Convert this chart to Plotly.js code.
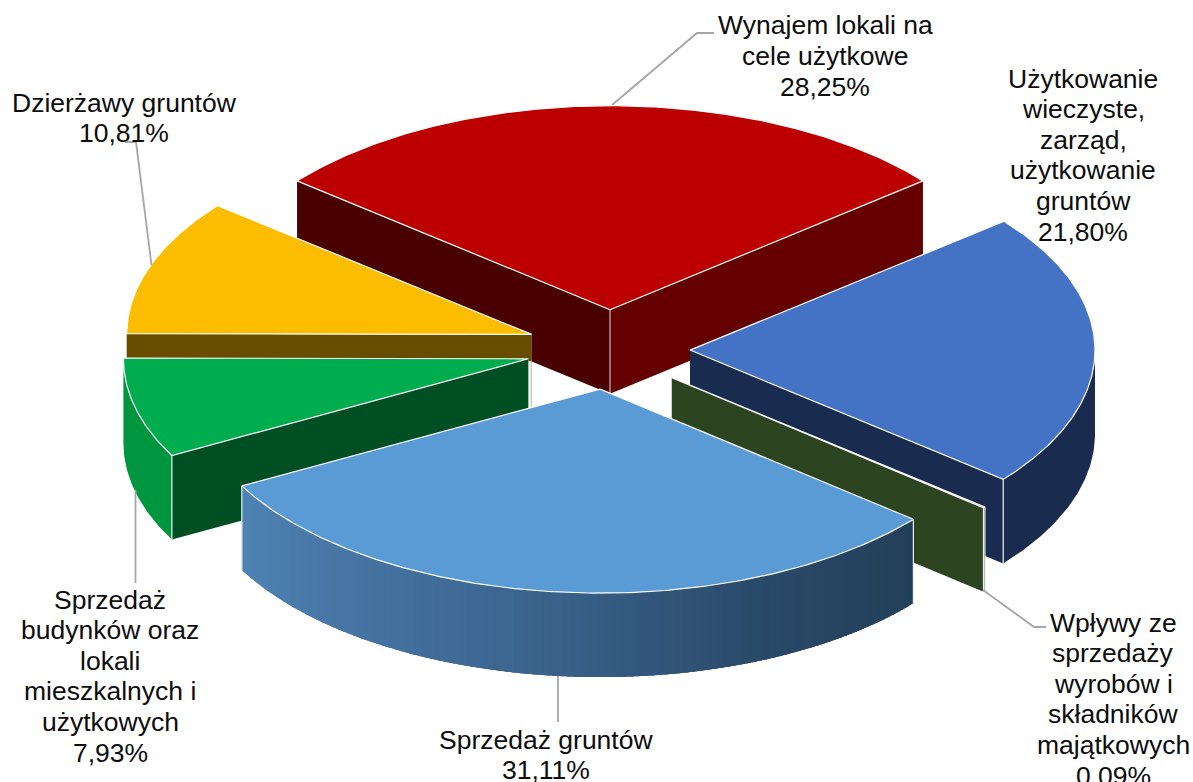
<!DOCTYPE html>
<html>
<head>
<meta charset="utf-8">
<script src="https://cdn.plot.ly/plotly-3.0.1.min.js"></script>
<style>html,body{margin:0;padding:0;background:#fff;overflow:hidden}#chart{width:1193px;height:782px}</style>
</head>
<body>
<div id="chart"></div>
<script>
// ---- data ----
const categories = ['Wynajem lokali na cele użytkowe','Użytkowanie wieczyste, zarząd, użytkowanie gruntów','Wpływy ze sprzedaży wyrobów i składników majątkowych','Sprzedaż gruntów','Sprzedaż budynków oraz lokali mieszkalnych i użytkowych','Dzierżawy gruntów'];
const labelLines = [
  ['Wynajem lokali na','cele użytkowe'],
  ['Użytkowanie','wieczyste,','zarząd,','użytkowanie','gruntów'],
  ['Wpływy ze','sprzedaży','wyrobów i','składników','majątkowych'],
  ['Sprzedaż gruntów'],
  ['Sprzedaż','budynków oraz','lokali','mieszkalnych i','użytkowych'],
  ['Dzierżawy gruntów']
];
const shares = [28.25, 21.80, 0.09, 31.11, 7.93, 10.81];

// ---- styles ----
const topColors  = ['#BC0000','#4472C4','#3A5A28','#5B9BD5','#00AD4E','#FCBD00'];
const wallAColors = ['#480000','#1A2B50','#2D4420','#233F58','#004F24','#664D00'];
const wallBColors = ['#640000','#1A2B50','#2D4420','#233F58','#004F24','#664D00'];
const rimStops = [
  [['#640000',0],['#640000',1]],
  [['#1A2B50',0],['#1A2B50',1]],
  [['#2D4420',0],['#2D4420',1]],
  [['#4F83B4',0],['#3C658F',0.45],['#2A4A6A',0.75],['#233F58',1]],
  [['#00963F',0],['#00963F',1]],
  [['#664D00',0],['#664D00',1]]
];
const drawOrder = [0,5,4,1,2,3];
const labelPos = [[825,56],[1083,155],[1113,699],[546,755],[110,676],[124,118]];
const leaders = [
  [[612,105],[697,33],[714,33]],
  [[983,590],[1034,627],[1046,627]],
  [[558,676],[558,722]],
  [[135.5,490],[135.5,583]],
  [[151.5,265],[136,142],[125,142]]
];
// small per-slice corrections for the reference's perspective
const nudge = [[0,0],[0,0],[0,2],[-2,-1],[-4,-1],[-3,-2]];
const rxAdjust = [-1.5,0,0,2,0,0];

// ---- geometry ----
const CX=610, CY=350, RX=405, RY=204, DEPTH=84, EXPLODE=80, K=RY/RX, PITCH=30.6;
const rad = d => d*Math.PI/180;
const total = shares.reduce((a,b)=>a+b,0);
const deg = shares.map(v=>v/total*360);
let cursor = -deg[0]/2;
const slices = deg.map((d,i)=>{
  const a=cursor, b=cursor+d; cursor=b;
  const m=(a+b)/2;
  return {a,b,rx:RX+rxAdjust[i],ox:CX+EXPLODE*Math.sin(rad(m))+nudge[i][0],oy:CY-EXPLODE*K*Math.cos(rad(m))+nudge[i][1]};
});
const rim = (s,t)=>[s.ox+s.rx*Math.sin(rad(t)), s.oy-RY*Math.cos(rad(t))];

function hex(c){return [1,3,5].map(i=>parseInt(c.substr(i,2),16));}
function mix(stops,t){
  for(let i=1;i<stops.length;i++){
    if(t<=stops[i][1]){
      const u=(t-stops[i-1][1])/((stops[i][1]-stops[i-1][1])||1);
      const p=hex(stops[i-1][0]),q=hex(stops[i][0]);
      return 'rgb('+p.map((v,k)=>Math.round(v+(q[k]-v)*u)).join(',')+')';
    }
  }
  return stops[stops.length-1][0];
}
const traces=[];
function poly(pts,fill,lineColor,w){
  traces.push({type:'scatter',mode:'lines',x:pts.map(p=>p[0]).concat(pts[0][0]),y:pts.map(p=>p[1]).concat(pts[0][1]),
    fill:'toself',fillcolor:fill,line:{color:lineColor||fill,width:w===undefined?0:w},hoverinfo:'skip',showlegend:false});
}
function path(pts,color,w){
  traces.push({type:'scatter',mode:'lines',x:pts.map(p=>p[0]),y:pts.map(p=>p[1]),line:{color,width:w},hoverinfo:'skip',showlegend:false});
}
function cutWall(s,t,color,depth){
  const o=[s.ox,s.oy], e=rim(s,t);
  poly([o,e,[e[0],e[1]+depth],[o[0],o[1]+depth]],color);
}
drawOrder.forEach(i=>{
  const s=slices[i];
  const sinA=Math.sin(rad(s.a)), sinB=Math.sin(rad(s.b));
  if(sinA<0){
    if(i===5){ // the last slice's wall only shows above the next slice; a thin edge runs on below it
      path([[s.ox-0.5,s.oy],[s.ox-0.5,s.oy+72]],'#B8AE94',1);
      cutWall(s,s.a,wallAColors[i],26);
    } else cutWall(s,s.a,wallAColors[i],DEPTH);
  }
  if(sinB>0) cutWall(s,s.b,wallBColors[i],DEPTH);
  // rim of the slice, only where it faces the viewer
  const from=Math.max(s.a,90), to=Math.min(s.b,270);
  if(to>from){
    const plain=rimStops[i].every(st=>st[0]===rimStops[i][0][0]);
    const arc=(t0,t1)=>{
      const pts=[]; const m=Math.max(2,Math.ceil((t1-t0)*2));
      for(let j=0;j<=m;j++) pts.push(rim(s,t0+(t1-t0)*j/m));
      for(let j=m;j>=0;j--){const p=rim(s,t0+(t1-t0)*j/m); pts.push([p[0],p[1]+DEPTH]);}
      return pts;
    };
    if(plain) poly(arc(from,to),rimStops[i][0][0]);
    else{
      const n=Math.ceil(to-from);
      for(let j=0;j<n;j++){
        const t0=from+(to-from)*j/n, t1=Math.min(to,from+(to-from)*(j+1)/n+1.5);
        poly(arc(t0,t1),mix(rimStops[i],1-(j+0.5)/n));
      }
    }
  }
  // vertical white corner lines
  [s.a,s.b].forEach(t=>{
    if(Math.cos(rad(t))<0 && Math.abs(Math.sin(rad(t)))>0.5 && t>=from-0.01 && t<=to+0.01){
      const p=rim(s,t); path([p,[p[0],p[1]+DEPTH]],'#E8EEF0',1.2);
    }
  });
  if(s.a<0) path([[s.ox,s.oy],[s.ox,s.oy+DEPTH]],'#E8DADA',1);
  // top face
  const top=[[s.ox,s.oy]];
  const n=Math.max(2,Math.ceil(s.b-s.a)*2);
  for(let j=0;j<=n;j++) top.push(rim(s,s.a+(s.b-s.a)*j/n));
  poly(top,topColors[i],'#FFFFFF',1.2);
});
leaders.forEach(l=>path(l,'#A6A6A6',1.8));

const pct = v=>v.toFixed(2).replace('.',',')+'%';
const annotations=[];
categories.forEach((c,i)=>{
  const lines=labelLines[i].concat(pct(shares[i]));
  lines.forEach((t,k)=>annotations.push({
    x:labelPos[i][0],y:labelPos[i][1]+(k-(lines.length-1)/2)*PITCH,xref:'x',yref:'y',showarrow:false,xanchor:'center',yanchor:'middle',align:'center',
    text:t,font:{family:'"Liberation Sans",Arial,sans-serif',size:26.5,color:'#0D0D0D'}
  }));
});
const layout={
  width:1193,height:782,margin:{l:0,r:0,t:0,b:0},paper_bgcolor:'#fff',plot_bgcolor:'#fff',showlegend:false,hovermode:false,
  xaxis:{range:[0,1193],visible:false,fixedrange:true},
  yaxis:{range:[782,0],visible:false,fixedrange:true},
  annotations
};
Plotly.newPlot('chart',traces,layout,{displayModeBar:false,staticPlot:true});
</script>
</body>
</html>
